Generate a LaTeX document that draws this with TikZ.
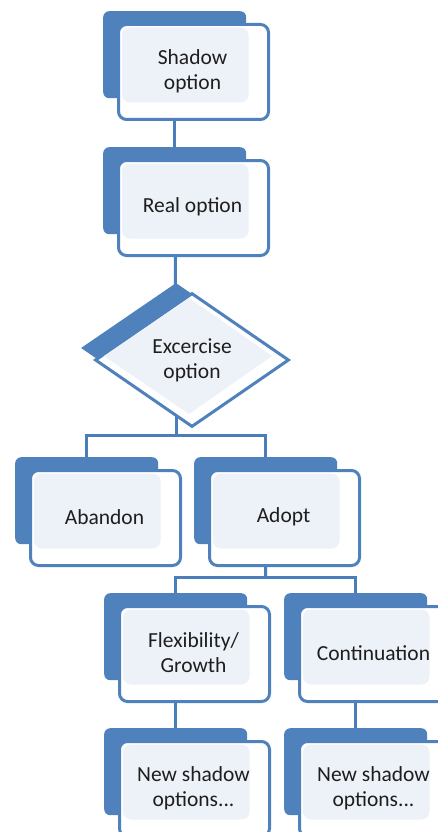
\documentclass[tikz,border=0pt]{standalone}
\usepackage{fontspec}
\setmainfont{Carlito}
\usetikzlibrary{shapes.geometric,calc}
\definecolor{ofblue}{HTML}{4F81BD}
\definecolor{lineblue}{HTML}{4A7EBB}
\definecolor{innerfill}{HTML}{EDF1F8}
\definecolor{txt}{HTML}{1E1E1E}
\pgfdeclarelayer{bg}
\pgfsetlayers{bg,main}
\tikzset{
 backbox/.style={rectangle, rounded corners=6pt, fill=ofblue, minimum width=143pt, minimum height=87pt, inner sep=0pt, anchor=north west},
 frontbox/.style={rectangle, rounded corners=8pt, draw=ofblue, line width=3pt, fill=white, minimum width=150pt, minimum height=95pt, inner sep=0pt, anchor=north west,
   path picture={\fill[innerfill] ([shift={(3.5pt,-3pt)}]path picture bounding box.north west) rectangle ([shift={(-20pt,17pt)}]path picture bounding box.south east);}},
 boxtext/.style={font=\fontsize{21.5}{25}\selectfont, text=txt, align=center, inner sep=0pt},
 conn/.style={draw=lineblue, line width=3pt},
}
\newcommand\obox[4]{%
 \node[backbox] (b#1) at (#2,#3) {};
 \node[frontbox] (f#1) at (#2+14,#3+12) {};
 \node[boxtext] (t#1) at ($(f#1.center)+(-1,-1)$) {#4};
}
\begin{document}
\begin{tikzpicture}[x=1pt,y=-1pt]
\useasboundingbox (0,0) rectangle (438,832);
\obox{Shadow}{103}{11}{Shadow\\option}
\obox{Real}{103}{147}{Real option}
% diamond
\node[diamond, fill=ofblue, minimum width=190pt, minimum height=130pt, inner sep=0pt] (bEx) at (176,348) {};
\node[diamond, draw=ofblue, line width=3pt, fill=white, minimum width=194pt, minimum height=134pt, inner sep=0pt] (fEx) at (192,360) {};
\fill[innerfill] (189,298) -- (272,356) -- (189,414) -- (104,356) -- cycle;
\node[boxtext] (tEx) at (192,360) {Excercise\\option};
\obox{Abandon}{15}{457}{Abandon}
\obox{Adopt}{194}{457}{Adopt}
\obox{Flex}{104}{593}{Flexibility/\\Growth}
\obox{Cont}{284}{593}{Continuation}
\obox{NewA}{104}{728}{New shadow\\options...}
\obox{NewB}{284}{728}{New shadow\\options...}
\coordinate (j1) at (176,435);
\coordinate (j2) at (265.5,577);
\begin{pgfonlayer}{bg}
\draw[conn] (bShadow.center) -- (bReal.center);
\draw[conn] (bReal.center) -- (bEx.center);
\draw[conn] (bEx.center) -- (j1);
\draw[conn] (j1) -| (bAbandon.center);
\draw[conn] (j1) -| (bAdopt.center);
\draw[conn] (bAdopt.center) -- (j2);
\draw[conn] (j2) -| (bFlex.center);
\draw[conn] (j2) -| (bCont.center);
\draw[conn] (bFlex.center) -- (bNewA.center);
\draw[conn] (bCont.center) -- (bNewB.center);
\end{pgfonlayer}
\end{tikzpicture}
\end{document}
